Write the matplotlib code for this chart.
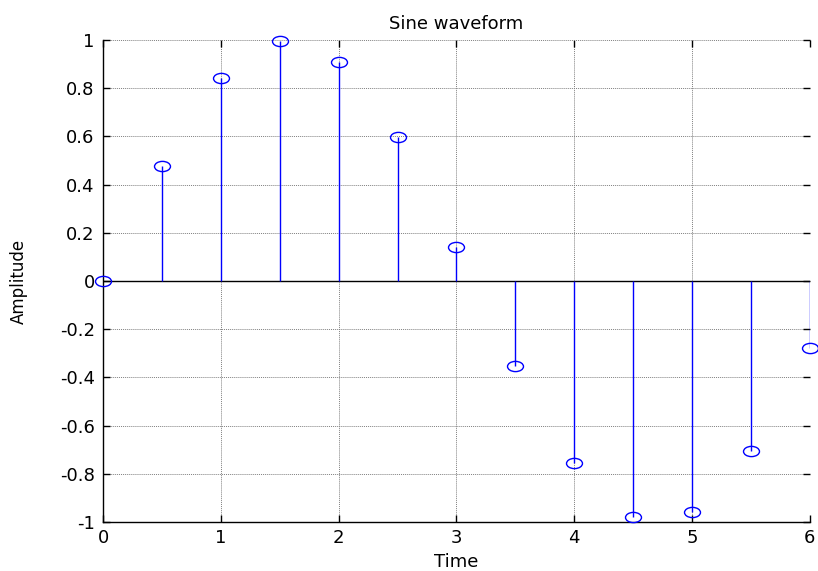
import matplotlib
matplotlib.use("Agg")
import matplotlib.pyplot as plt
from matplotlib.path import Path
from matplotlib.transforms import Affine2D

time = [0, 0.5, 1, 1.5, 2, 2.5, 3, 3.5, 4, 4.5, 5, 5.5, 6]
amplitude = [0.0, 0.479, 0.841, 0.997, 0.909, 0.598, 0.141, -0.351, -0.757, -0.978, -0.959, -0.706, -0.279]
xticks = [0, 1, 2, 3, 4, 5, 6]
yticks = [-1, -0.8, -0.6, -0.4, -0.2, 0, 0.2, 0.4, 0.6, 0.8, 1]
ytick_labels = ["-1", "-0.8", "-0.6", "-0.4", "-0.2", "0", "0.2", "0.4", "0.6", "0.8", "1"]

plt.rcParams['font.family'] = ['DejaVu Sans']

fig = plt.figure(figsize=(8.18, 5.71), dpi=100)
ax = fig.add_axes([0.126, 0.0858, 0.864, 0.8442])

ellipse = Path.unit_circle().transformed(Affine2D().scale(1.0, 0.64))

ax.axhline(0, color='black', lw=1.0, zorder=2)
for t, a in zip(time, amplitude):
    ax.vlines(t, 0, a, color='blue', lw=1.0, zorder=3)
ax.plot(time, amplitude, linestyle='none', marker=ellipse, markersize=11.5,
        markerfacecolor='none', markeredgecolor='blue', markeredgewidth=1.0,
        zorder=4, clip_on=False)

ax.set_xlim(0, 6)
ax.set_ylim(-1, 1)
ax.set_xticks(xticks)
ax.set_xticklabels([str(x) for x in xticks])
ax.set_yticks(yticks)
ax.set_yticklabels(ytick_labels)
ax.grid(True, color='#808080', linestyle=(0, (1, 1)), linewidth=0.7)
ax.set_axisbelow(True)
ax.tick_params(direction='in', top=True, right=True, length=5, width=1.0,
               labelsize=13, colors='black')
ax.tick_params(axis='y', pad=6)
ax.tick_params(axis='x', pad=5)
for side in ['left', 'bottom']:
    ax.spines[side].set_color('black')
    ax.spines[side].set_linewidth(1.0)
for side in ['top', 'right']:
    ax.spines[side].set_visible(False)

ax.set_title('Sine waveform', fontsize=13, pad=8)
ax.set_xlabel('Time', fontsize=13, labelpad=4)
ax.set_ylabel('Amplitude', fontsize=12)
ax.yaxis.set_label_coords(-0.106, 0.5)

fig.savefig('out.png', dpi=100)
